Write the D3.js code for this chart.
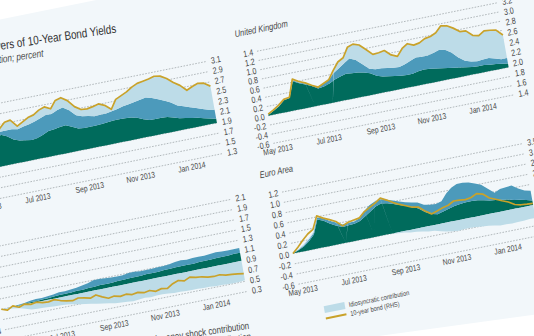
<!DOCTYPE html>
<html>
<head>
<meta charset="utf-8">
<script src="https://cdn.jsdelivr.net/npm/d3@7"></script>
<style>
  html, body { margin: 0; padding: 0; background: #fff; overflow: hidden; }
  svg { display: block; }
  text { font-family: "Liberation Sans", Arial, sans-serif; fill: #474747; }
</style>
</head>
<body>
<svg id="chart" width="534" height="336"></svg>
<script>
// weekly observations, 27 Apr 2013 - 8 Feb 2014
const startDate = new Date(2013, 3, 27);
const endDate = new Date(2014, 1, 8);
const dates = d3.range(42).map(i => d3.timeDay.offset(startDate, 7 * i));
const monthTicks = [new Date(2013, 4, 1), new Date(2013, 6, 1), new Date(2013, 8, 1), new Date(2013, 10, 1), new Date(2014, 0, 1)];

// United States
const usTeal = [0.00,0.05,0.14,0.26,0.44,0.60,0.55,0.46,0.42,0.40,0.38,0.40,0.44,0.49,0.50,0.52,0.53,0.48,0.42,0.41,0.41,0.41,0.42,0.43,0.44,0.44,0.44,0.43,0.40,0.35,0.31,0.31,0.31,0.30,0.27,0.23,0.21,0.19,0.17,0.14,0.11,0.08];
const usMid = [0.00,0.00,0.01,0.02,0.03,0.06,0.11,0.20,0.22,0.27,0.31,0.32,0.32,0.31,0.30,0.33,0.35,0.32,0.26,0.23,0.21,0.18,0.18,0.17,0.18,0.20,0.23,0.26,0.31,0.38,0.44,0.41,0.36,0.32,0.29,0.25,0.23,0.21,0.19,0.18,0.17,0.18];
const usLight = [0.00,0.00,0.00,0.02,0.03,0.06,0.16,0.18,0.06,0.09,0.13,0.13,0.16,0.16,0.10,0.19,0.19,0.19,0.17,0.13,0.14,0.19,0.21,0.16,0.04,0.19,0.21,0.24,0.29,0.32,0.32,0.37,0.45,0.48,0.47,0.45,0.41,0.33,0.42,0.50,0.52,0.46];
const usBond = [1.90,1.95,2.05,2.20,2.40,2.62,2.72,2.74,2.60,2.66,2.72,2.75,2.82,2.86,2.80,2.94,2.97,2.89,2.75,2.67,2.66,2.68,2.71,2.66,2.56,2.73,2.78,2.83,2.90,2.95,2.97,2.99,3.02,3.00,2.93,2.83,2.75,2.63,2.68,2.72,2.70,2.62];
const usLeftTicks = [-0.6,-0.4,-0.2,0.0,0.2,0.4,0.6,0.8,1.0,1.2];
const usRightTicks = [1.3,1.5,1.7,1.9,2.1,2.3,2.5,2.7,2.9,3.1];

// United Kingdom
const ukTeal = [0.02,0.08,0.15,0.26,0.28,0.62,0.55,0.50,0.44,0.36,0.38,0.42,0.48,0.52,0.55,0.54,0.53,0.50,0.46,0.38,0.34,0.32,0.30,0.28,0.27,0.27,0.30,0.31,0.30,0.28,0.26,0.24,0.22,0.20,0.18,0.16,0.15,0.15,0.13,0.12,0.10,0.08];
const ukMid = [0.01,0.01,0.01,0.01,0.01,0.02,0.02,0.02,0.02,0.03,0.06,0.08,0.14,0.18,0.23,0.32,0.27,0.18,0.10,0.14,0.18,0.18,0.18,0.19,0.23,0.28,0.30,0.28,0.29,0.34,0.40,0.40,0.33,0.22,0.14,0.12,0.11,0.12,0.15,0.12,0.10,0.12];
const ukLight = [0.00,0.01,0.02,0.01,0.01,0.03,0.02,0.01,0.00,0.00,0.00,0.00,0.06,0.13,0.12,0.24,0.34,0.42,0.42,0.32,0.33,0.38,0.28,0.23,0.34,0.37,0.27,0.30,0.37,0.36,0.37,0.52,0.58,0.63,0.64,0.66,0.56,0.52,0.59,0.61,0.63,0.50];
const ukBond = [1.97,2.03,2.10,2.19,2.21,2.54,2.47,2.42,2.35,2.29,2.34,2.39,2.55,2.69,2.75,2.93,2.97,2.93,2.82,2.70,2.71,2.73,2.62,2.57,2.70,2.77,2.72,2.74,2.80,2.82,2.87,2.98,2.96,2.89,2.80,2.79,2.68,2.65,2.72,2.71,2.69,2.57];
const ukLeftTicks = [-0.6,-0.4,-0.2,0.0,0.2,0.4,0.6,0.8,1.0,1.2,1.4];
const ukRightTicks = [1.4,1.6,1.8,2.0,2.2,2.4,2.6,2.8,3.0,3.2];

// Japan
const jpTeal = [0.00,0.00,0.01,0.01,0.01,0.02,0.02,0.03,0.03,0.04,0.05,0.05,0.05,0.06,0.06,0.07,0.07,0.08,0.08,0.08,0.09,0.09,0.10,0.10,0.10,0.11,0.11,0.11,0.12,0.12,0.13,0.13,0.13,0.13,0.14,0.14,0.14,0.15,0.15,0.15,0.16,0.16];
const jpMid = [0.00,0.00,0.00,0.01,0.02,0.03,0.04,0.03,0.04,0.04,0.05,0.05,0.06,0.06,0.08,0.09,0.13,0.12,0.11,0.10,0.09,0.09,0.10,0.10,0.09,0.08,0.08,0.09,0.08,0.09,0.10,0.11,0.10,0.11,0.10,0.10,0.11,0.11,0.10,0.10,0.09,0.09];
const jpLight = [0.00,-0.02,-0.03,-0.05,-0.08,-0.12,-0.13,-0.13,-0.14,-0.15,-0.15,-0.16,-0.18,-0.20,-0.22,-0.24,-0.26,-0.28,-0.30,-0.32,-0.33,-0.34,-0.35,-0.34,-0.33,-0.34,-0.33,-0.33,-0.34,-0.35,-0.35,-0.36,-0.36,-0.36,-0.37,-0.37,-0.38,-0.38,-0.39,-0.39,-0.39,-0.38];
const jpBond = [0.90,0.86,0.92,0.87,0.91,0.88,0.90,0.87,0.86,0.88,0.84,0.81,0.79,0.82,0.80,0.77,0.81,0.75,0.70,0.72,0.69,0.71,0.68,0.70,0.67,0.69,0.65,0.68,0.66,0.73,0.77,0.74,0.79,0.76,0.75,0.72,0.71,0.72,0.69,0.68,0.67,0.65];
const jpLeftTicks = [-0.6,-0.4,-0.2,0.0,0.2,0.4,0.6,0.8,1.0,1.2];
const jpRightTicks = [0.3,0.5,0.7,0.9,1.1,1.3,1.5,1.7,1.9,2.1];

// Euro Area
const euTeal = [0.00,0.04,0.09,0.17,0.28,0.55,0.50,0.42,0.36,0.31,0.32,0.33,0.36,0.43,0.50,0.57,0.61,0.59,0.55,0.51,0.47,0.43,0.37,0.28,0.22,0.19,0.22,0.25,0.28,0.30,0.31,0.31,0.30,0.28,0.25,0.24,0.22,0.20,0.17,0.15,0.12,0.09];
const euMid = [0.01,0.01,0.02,0.03,0.03,0.04,0.05,0.06,0.06,0.05,0.05,0.04,0.05,0.10,0.12,0.10,0.08,0.07,0.07,0.07,0.07,0.08,0.12,0.14,0.18,0.20,0.20,0.30,0.36,0.39,0.38,0.36,0.33,0.30,0.23,0.14,0.21,0.24,0.28,0.22,0.19,0.19];
const euLight = [0.00,0.01,0.02,0.02,0.02,0.03,0.02,0.02,0.02,0.00,0.02,0.03,0.02,0.01,0.00,0.01,0.02,0.00,-0.02,-0.03,-0.05,-0.06,-0.08,-0.10,-0.11,-0.14,-0.17,-0.19,-0.20,-0.19,-0.19,-0.20,-0.21,-0.22,-0.24,-0.26,-0.26,-0.27,-0.26,-0.26,-0.25,-0.25];
const euBond = [0.50,0.75,1.03,1.28,1.45,2.05,1.88,1.75,1.60,1.33,1.45,1.50,1.55,1.80,1.95,2.10,2.28,2.13,1.95,1.80,1.68,1.55,1.50,1.25,1.05,1.13,1.23,1.30,1.45,1.43,1.40,1.45,1.58,1.50,1.25,1.13,1.00,0.88,0.70,0.63,0.60,0.58];
const euLeftTicks = [-0.6,-0.4,-0.2,0.0,0.2,0.4,0.6,0.8,1.0,1.2];
const euRightTicks = [-1.0,-0.5,0.0,0.5,1.0,1.5,2.0,2.5,3.0,3.5];

const legendLeft = ["Global money shock contribution", "Local money shock contribution"];
const legendRight = ["Idiosyncratic contribution", "10-year bond (RHS)"];

const colors = {teal: "#006b5c", mid: "#4c9abb", light: "#bddce8", bond: "#c9a22a"};
const W = 245, H = 93.5;
const NARROW = 0.8;   // the report face is a condensed grotesque

const panels = [
    {title: "United States", ox: 0, oy: 2, teal: usTeal, mid: usMid, light: usLight, bond: usBond, left: usLeftTicks, right: usRightTicks},
    {title: "United Kingdom", ox: 297, oy: 2, teal: ukTeal, mid: ukMid, light: ukLight, bond: ukBond, left: ukLeftTicks, right: ukRightTicks},
    {title: "Japan", ox: 0, oy: 142, teal: jpTeal, mid: jpMid, light: jpLight, bond: jpBond, left: jpLeftTicks, right: jpRightTicks},
    {title: "Euro Area", ox: 297, oy: 145, teal: euTeal, mid: euMid, light: euLight, bond: euBond, left: euLeftTicks, right: euRightTicks}
];

const svg = d3.select("#chart");
svg.append("rect").attr("width", 534).attr("height", 336).attr("fill", "#fff");

// the printed page is seen at a slant
const page = svg.append("g")
    .attr("transform", "matrix(0.9803,-0.1977,0.1752,0.985,-34.5,108)");

// shaded figure box
page.append("polygon")
    .attr("points", "-120,-80 700,-80 700,326 365,305 -120,274")
    .attr("fill", "#f2f7fa");

const x = d3.scaleTime().domain([startDate, endDate]).range([0, W]);
const fmt = v => v.toFixed(1);

// condensed text: squeeze horizontally around the anchor point
function label(parent, px, py, str, size, anchor, extra) {
    return parent.append("text")
        .attr("transform", `translate(${px},${py})${extra || ""} scale(${NARROW},1)`)
        .attr("text-anchor", anchor || "start")
        .attr("font-size", size)
        .text(str);
}

function drawPanel(p) {
    const g = page.append("g").attr("transform", `translate(${p.ox},${p.oy})`);
    const yL = d3.scaleLinear().domain(d3.extent(p.left)).range([H, 0]);
    const yR = d3.scaleLinear().domain(d3.extent(p.right)).range([H, 0]);

    // dashed gridlines
    g.append("g").selectAll("line")
        .data(p.left)
        .join("line")
        .attr("x1", 0).attr("x2", W)
        .attr("y1", d => yL(d)).attr("y2", d => yL(d))
        .attr("stroke", "#8e9599")
        .attr("stroke-width", 0.6)
        .attr("stroke-dasharray", "1.6,1.4");

    const rows = dates.map((date, i) => ({date: date, teal: p.teal[i], mid: p.mid[i], light: p.light[i]}));
    const series = d3.stack()
        .keys(["teal", "mid", "light"])
        .offset(d3.stackOffsetDiverging)(rows);

    const area = d3.area()
        .x(d => x(d.data.date))
        .y0(d => yL(d[0]))
        .y1(d => yL(d[1]));

    g.append("g").selectAll("path")
        .data(series)
        .join("path")
        .attr("fill", d => colors[d.key])
        .attr("d", area);

    const line = d3.line()
        .x((d, i) => x(dates[i]))
        .y(d => yR(d));

    g.append("path")
        .datum(p.bond)
        .attr("fill", "none")
        .attr("stroke", colors.bond)
        .attr("stroke-width", 1.7)
        .attr("stroke-linejoin", "round")
        .attr("d", line);

    // left and right axis labels
    p.left.forEach(v => label(g, -4, yL(v) + 3.2, fmt(v), 9, "end"));
    p.right.forEach(v => label(g, W + 5, yR(v) + 3.2, fmt(v), 9, "start"));

    monthTicks.forEach(t => label(g, x(t), H + 10, d3.timeFormat("%b %Y")(t), 8.5, "middle"));

    label(g, -19, -18, p.title, 9.5, "start").attr("font-style", "italic");
}

panels.forEach(drawPanel);

// figure title
label(page, 162, -44, "Drivers of 10-Year Bond Yields", 12.4, "end", " rotate(3)")
    .style("fill", "#333");
label(page, 86, -35, "Cumulative contribution; percent", 10.2, "end", " rotate(3)")
    .attr("font-style", "italic");

// legend: left column is set flush right against the Japan panel edge
const legend = page.append("g");
legendLeft.forEach((txt, i) => {
    const ly = 272.5 + 11 * i;
    label(legend, 241, ly, txt, 10, "end", " rotate(3)");
});
const rightItems = [
    {y: 265, kind: "light", label: legendRight[0]},
    {y: 274, kind: "bond", label: legendRight[1]}
];
rightItems.forEach(d => {
    if (d.kind === "bond") {
        legend.append("line")
            .attr("x1", 318).attr("x2", 339)
            .attr("y1", d.y + 3.5).attr("y2", d.y + 3.5)
            .attr("stroke", colors.bond).attr("stroke-width", 2);
    } else {
        legend.append("rect")
            .attr("x", 318).attr("y", d.y)
            .attr("width", 21).attr("height", 7)
            .attr("fill", colors[d.kind]);
    }
    label(legend, 343, d.y + 6, d.label, 7, "start");
});
</script>
</body>
</html>
